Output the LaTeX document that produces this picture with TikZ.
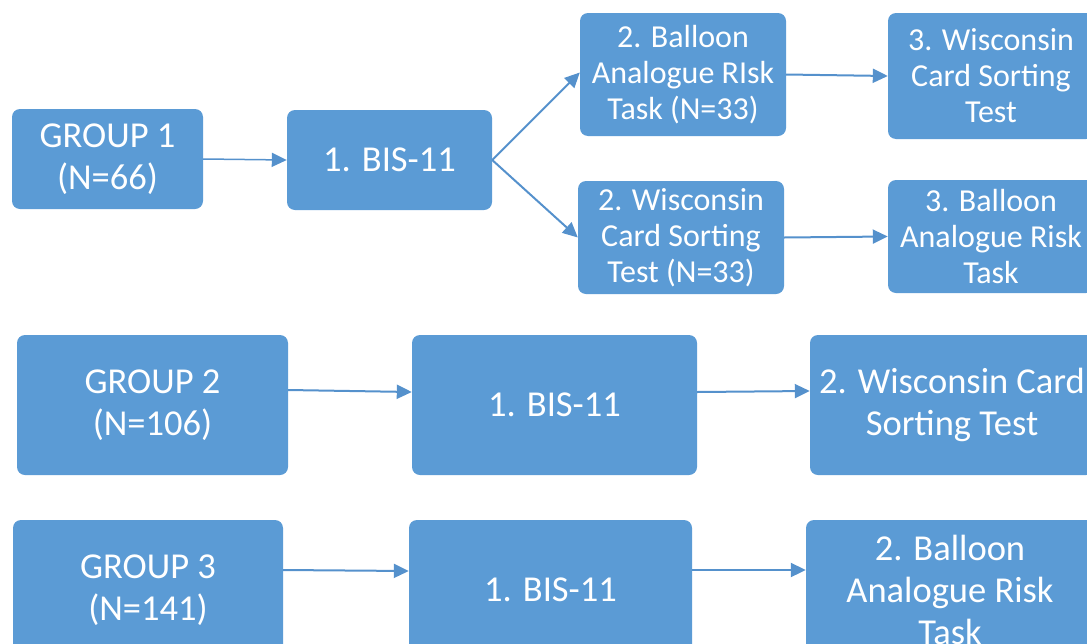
\documentclass[tikz,border=0pt]{standalone}
\usepackage{fontspec}
\setmainfont{Carlito}
\usetikzlibrary{arrows.meta}
\definecolor{boxblue}{HTML}{5B9BD5}
\definecolor{arrowblue}{HTML}{5591CC}
\tikzset{
  box/.style={fill=boxblue, rounded corners=8pt, text=white, align=center, inner sep=0pt},
  big/.style={font=\fontsize{36.5}{42}\selectfont},
  small/.style={font=\fontsize{32}{36}\selectfont},
  conn/.style={draw=arrowblue, line width=2pt, -{Triangle[length=15pt,width=14pt]}}
}
\begin{document}
\begin{tikzpicture}[x=1pt,y=-1pt]
\useasboundingbox (0,0) rectangle (1087,643);
\clip (0,0) rectangle (1087,643);
% group 1
\node[box,big,minimum width=191pt,minimum height=100pt] (g1) at (107.5,159) {GROUP 1\\(N=66)};
\node[box,big,minimum width=205pt,minimum height=100pt] (b1) at (389.5,160) {1. BIS-11};
\node[box,small,minimum width=206pt,minimum height=123pt] (bart1) at (683,74.5) {2. Balloon\\Analogue RIsk\\Task (N=33)};
\node[box,small,minimum width=206pt,minimum height=113pt] (wcst1) at (681,237.5) {2. Wisconsin\\Card Sorting\\Test (N=33)};
\node[box,small,minimum width=206pt,minimum height=126pt] (wcst1b) at (991,76) {3. Wisconsin\\Card Sorting\\Test};
\node[box,small,minimum width=206pt,minimum height=113pt] (bart1b) at (991,236.5) {3. Balloon\\Analogue Risk\\Task};
% group 2
\node[box,big,minimum width=271pt,minimum height=140pt] (g2) at (152.5,405) {GROUP 2\\(N=106)};
\node[box,big,minimum width=285pt,minimum height=140pt] (b2) at (554.5,405) {1. BIS-11};
\node[box,big,minimum width=284pt,minimum height=140pt] (wcst2) at (952,405) {2. Wisconsin Card\\Sorting Test};
% group 3
\node[box,big,minimum width=270pt,minimum height=140pt] (g3) at (148,590) {GROUP 3\\(N=141)};
\node[box,big,minimum width=283pt,minimum height=140pt] (b3) at (550.5,590) {1. BIS-11};
\node[box,big,minimum width=288pt,minimum height=140pt] (bart3) at (950,590) {2. Balloon\\Analogue Risk\\Task};
% connectors
\draw[conn, line width=1.5pt] (g1.east) -- (b1.west);
\draw[conn] (b1.east) -- ([yshift=2pt]bart1.west);
\draw[conn] (b1.east) -- (wcst1.west);
\draw[conn] (bart1.east) -- (wcst1b.west);
\draw[conn] (wcst1.east) -- (bart1b.west);
\draw[conn] ([yshift=15pt]g2.east) -- ([yshift=13pt]b2.west);
\draw[conn] ([yshift=13pt]b2.east) -- ([yshift=14pt]wcst2.west);
\draw[conn] ([yshift=20pt]g3.east) -- ([yshift=19pt]b3.west);
\draw[conn] ([yshift=20pt]b3.east) -- ([yshift=20pt]bart3.west);
\end{tikzpicture}
\end{document}
